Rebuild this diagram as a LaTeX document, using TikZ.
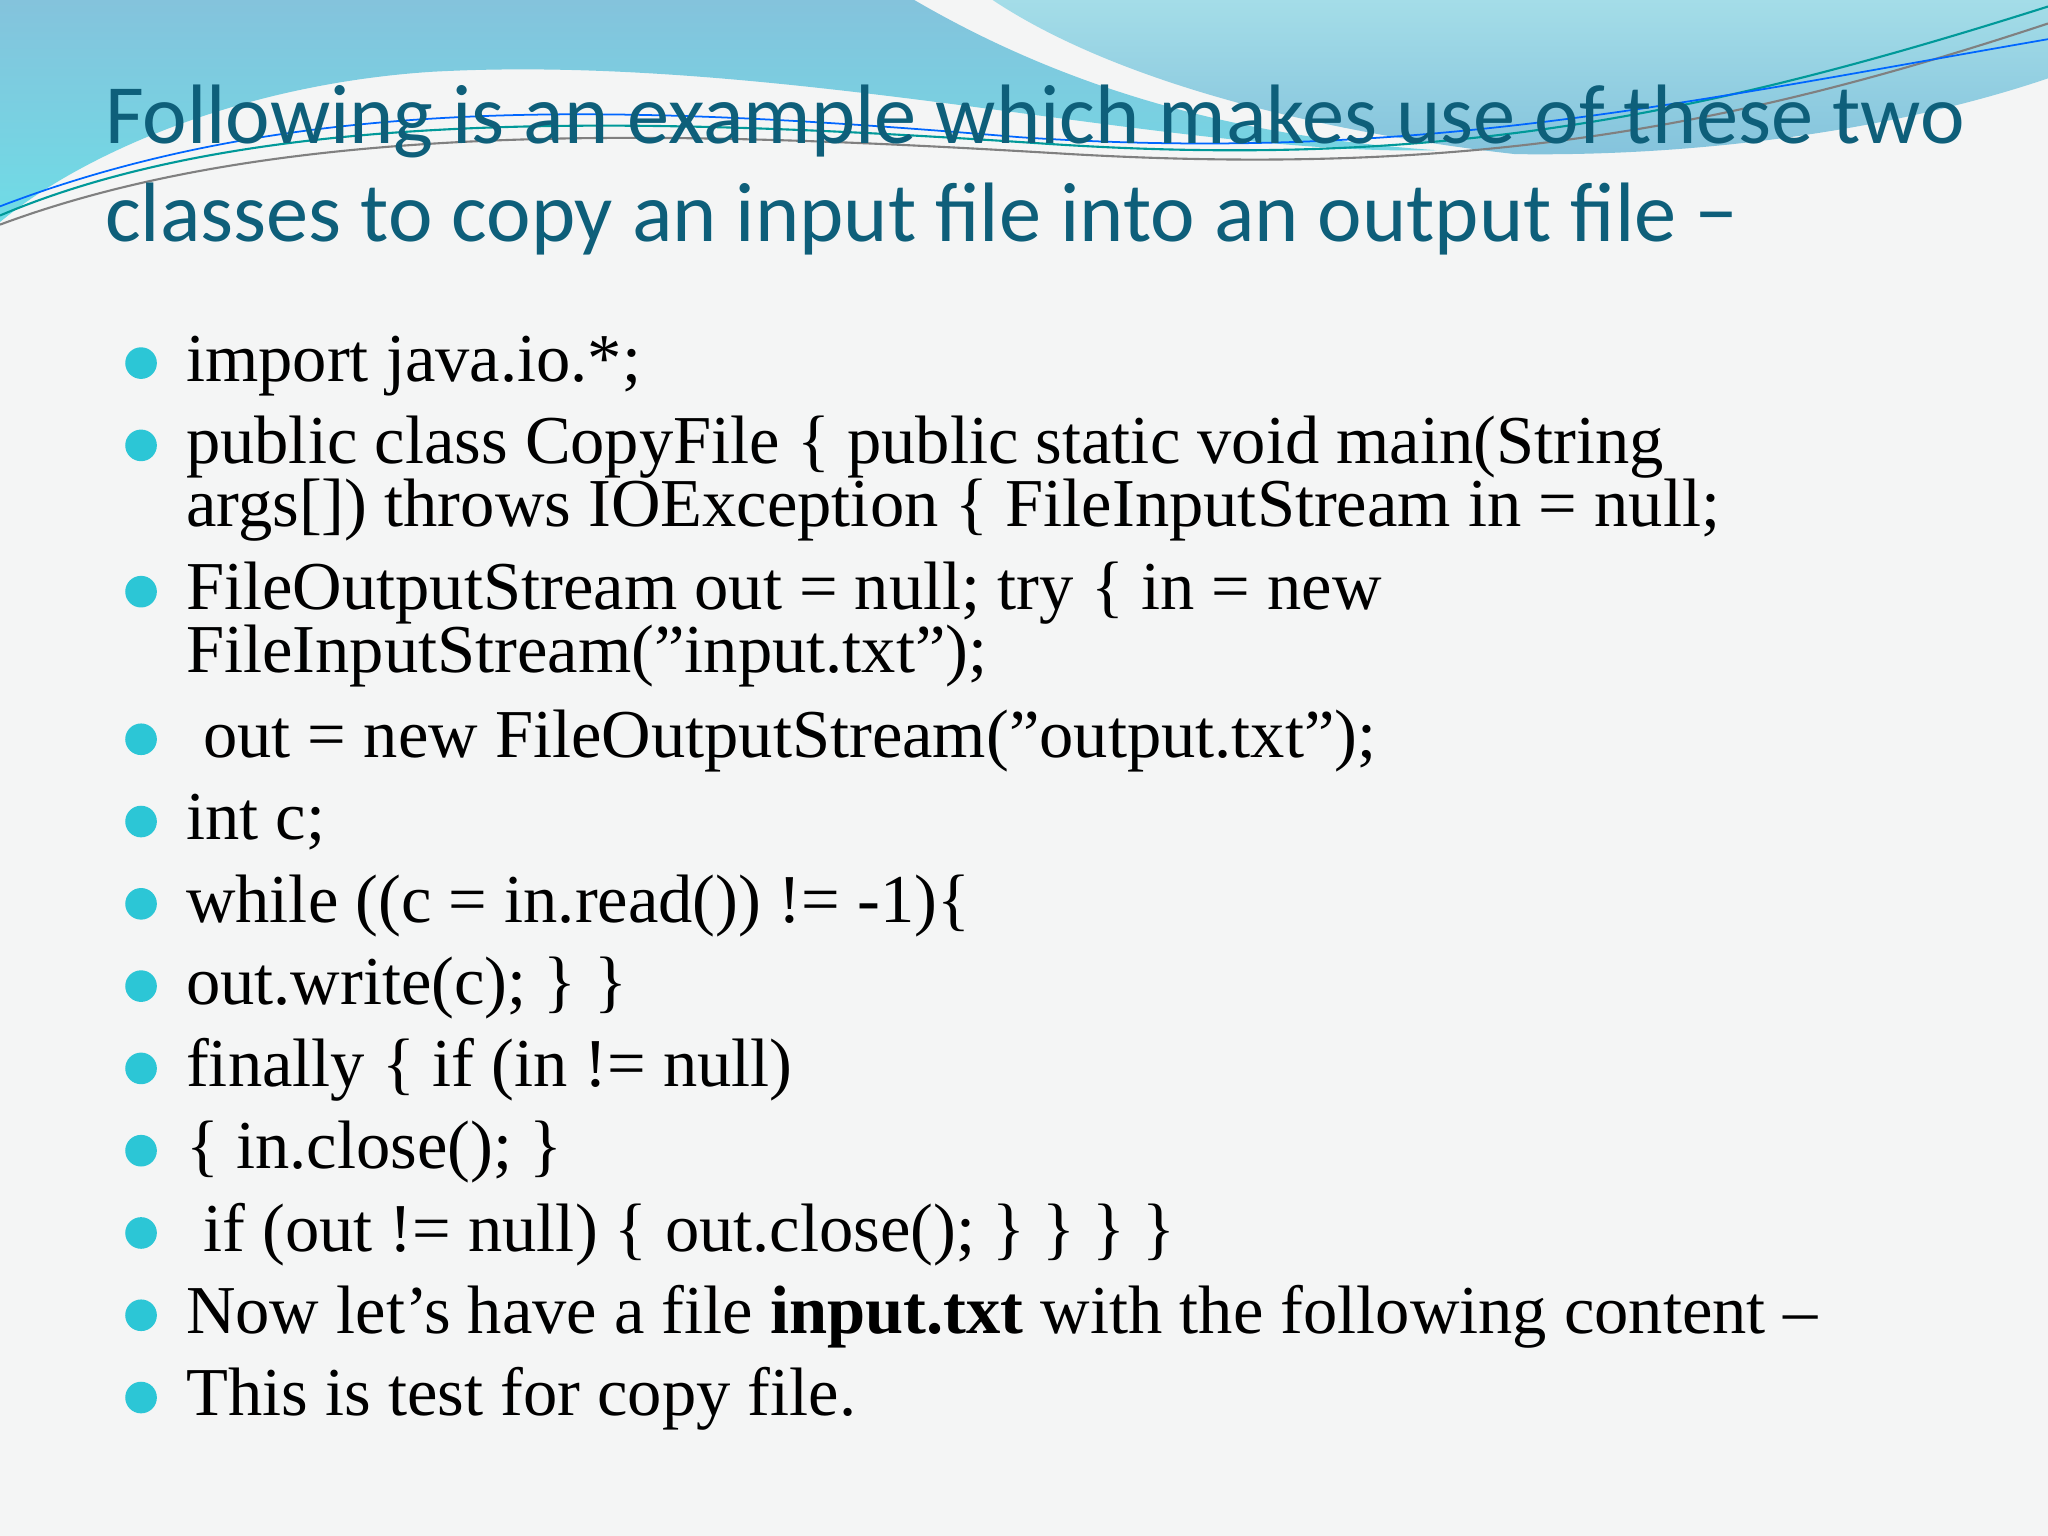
\documentclass[tikz,border=0pt]{standalone}
\usepackage{fontspec}
\setmainfont{Liberation Serif}
\newfontfamily\titlefont{Carlito}
\begin{document}
\begin{tikzpicture}[x=0.013061cm,y=-0.013061cm,
  ttl/.style={anchor=base west,inner sep=0,font=\titlefont\fontsize{24}{24}\selectfont,text=titleblue},
  ln/.style={anchor=base west,inner sep=0,font=\fontsize{19.5}{19.5}\selectfont,text=black},
  bul/.style={circle,fill=bulcyan,inner sep=0,minimum size=9pt}]
\definecolor{titleblue}{HTML}{0E5F7A}
\definecolor{bulcyan}{HTML}{2CC6D6}
\definecolor{bgc}{HTML}{F4F5F5}
\definecolor{wl}{HTML}{84C3DC}
\definecolor{wl2}{HTML}{6FDCE6}
\definecolor{wr}{HTML}{A4DDE8}
\useasboundingbox (0,0) rectangle (1568,1176);
\fill[bgc] (0,0) rectangle (1568,1176);
\shade[top color=wl,bottom color=wl2] (0,0) -- (700,0) .. controls (820,70) and (950,105) .. (1100,115)
  .. controls (900,120) and (600,40) .. (330,55) .. controls (180,65) and (60,120) .. (0,170) -- cycle;
\shade[top color=wr,bottom color=wl] (760,0) -- (1568,0) -- (1568,60) .. controls (1450,100) and (1300,120) .. (1160,118)
  .. controls (1000,100) and (850,60) .. (760,0) -- cycle;
\draw[teal!80!cyan,line width=0.6pt] (0,165) .. controls (200,80) and (500,90) .. (800,110) .. controls (1100,130) and (1300,90) .. (1568,5);
\draw[gray,line width=0.6pt] (0,172) .. controls (220,90) and (520,100) .. (820,118) .. controls (1120,135) and (1320,100) .. (1568,18);
\draw[blue!60!cyan,line width=0.5pt] (0,158) .. controls (230,70) and (480,80) .. (780,105) .. controls (1080,125) and (1280,80) .. (1568,30);

\node[ttl] (t1) at (80,110) {Following is an example which makes use of these two};
\node[ttl] (t2) at (80,185) {classes to copy an input file into an output file \textminus};

\foreach \y in {292,355,467,580,643,706,769,832,895,958,1021,1084}{\node[bul] at (108,\y-14) {};}
\node[ln] (l1) at (142,292) {import java.io.*;};
\node[ln] (l2) at (142,355) {public class CopyFile \{ public static void main(String};
\node[ln] (l2b) at (142,403) {args[]) throws IOException \{ FileInputStream in = null;};
\node[ln] (l3) at (142,467) {FileOutputStream out = null; try \{ in = new};
\node[ln] (l3b) at (142,515) {FileInputStream("input.txt");};
\node[ln] (l4) at (142,580) {\ out = new FileOutputStream("output.txt");};
\node[ln] (l5) at (142,643) {int c;};
\node[ln] (l6) at (142,706) {while ((c = in.read()) != -1)\{};
\node[ln] (l7) at (142,769) {out.write(c); \} \}};
\node[ln] (l8) at (142,832) {finally \{ if (in != null)};
\node[ln] (l9) at (142,895) {\{ in.close(); \}};
\node[ln] (l10) at (142,958) {\ if (out != null) \{ out.close(); \} \} \} \}};
\node[ln] (l11) at (142,1021) {Now let's have a file \textbf{input.txt} with the following content \textendash};
\node[ln] (l12) at (142,1084) {This is test for copy file.};
\end{tikzpicture}
\end{document}
